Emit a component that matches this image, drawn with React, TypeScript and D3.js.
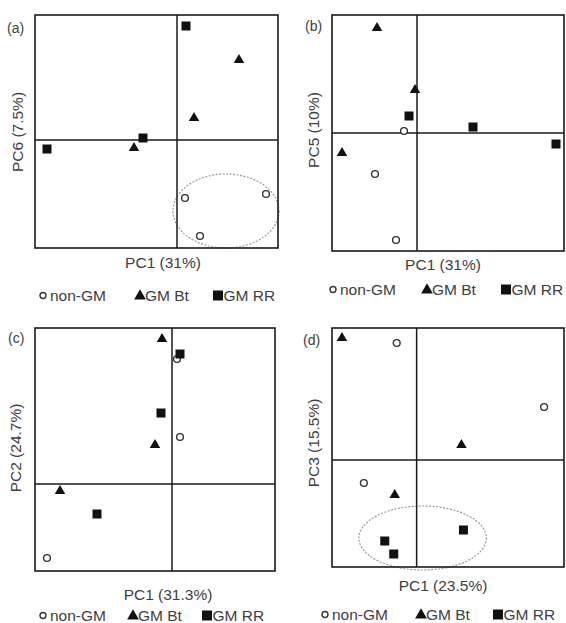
import React from "react";
import * as d3 from "d3";

// ---- Data (PC scores, arbitrary units) ----
type Pt = [number, number];

const panelLetters = ["(a)", "(b)", "(c)", "(d)"];
const xLabels = ["PC1 (31%)", "PC1 (31%)", "PC1 (31.3%)", "PC1 (23.5%)"];
const yLabels = ["PC6 (7.5%)", "PC5 (10%)", "PC2 (24.7%)", "PC3 (15.5%)"];
const groupNames = ["non-GM", "GM Bt", "GM RR"];

const xDomains: Pt[] = [[-14.2, 10.1], [-8.5, 14.7], [-13.7, 10.3], [-8.5, 14.8]];
const yDomains: Pt[] = [[-10.8, 12.5], [-11.8, 11.8], [-8.7, 15.6], [-10.7, 13.2]];

const nonGM: Pt[][] = [
  [[0.8, -5.8], [8.9, -5.4], [2.3, -9.6]],
  [[-1.3, 0.2], [-4.2, -4.1], [-2.1, -10.7]],
  [[0.5, 12.5], [0.8, 4.7], [-12.5, -7.4]],
  [[-2.0, 11.7], [12.8, 5.3], [-5.3, -2.3]],
];
const gmBt: Pt[][] = [
  [[6.2, 8.0], [1.7, 2.2], [-4.3, -0.8]],
  [[-4.0, 10.5], [-0.2, 4.3], [-7.5, -2.0]],
  [[-1.0, 14.5], [-1.7, 3.9], [-11.2, -0.7]],
  [[-7.5, 12.2], [4.5, 1.5], [-2.2, -3.5]],
];
const gmRR: Pt[][] = [
  [[0.9, 11.4], [-3.4, 0.2], [-13.0, -0.9]],
  [[-0.8, 1.7], [5.6, 0.6], [13.9, -1.1]],
  [[0.8, 13.0], [-1.1, 7.1], [-7.5, -3.0]],
  [[4.7, -7.0], [-3.2, -8.1], [-2.3, -9.4]],
];
// ellipses: [cx, cy, rx, ry] in data units (null = none)
const ellipses: ([number, number, number, number] | null)[] = [
  [4.9, -7.1, 5.3, 3.7],
  null,
  null,
  [0.6, -7.8, 6.4, 3.2],
];

// ---- Layout (pixels) ----
const boxes = [
  { x0: 35, x1: 278, y0: 15, y1: 248 },
  { x0: 332, x1: 564, y0: 15, y1: 251 },
  { x0: 35, x1: 275, y0: 328, y1: 571 },
  { x0: 332, x1: 564, y0: 328, y1: 567 },
];
const letterPos = [[7, 33], [305, 31], [8, 343], [303, 345]];
const xLabelPos = [[163, 268], [443, 270], [168, 600], [443, 591]];
const yLabelPos = [[23, 132], [319, 130], [21, 448], [319, 443]];
const legendBase = [301, 295, 621, 620];
const legendX = [
  [43, 140, 218],
  [333, 427, 506],
  [43, 133, 207],
  [325, 421, 498],
];

const FONT = "'Liberation Sans', Arial, sans-serif";
const TXT = "#404040";
const FS = 15.5;

const triPath = d3.symbol(d3.symbolTriangle, 48)() as string;
const triLegend = d3.symbol(d3.symbolTriangle, 60)() as string;

function Panel({ i }: { i: number }) {
  const b = boxes[i];
  const x = d3.scaleLinear().domain(xDomains[i]).range([b.x0, b.x1]);
  const y = d3.scaleLinear().domain(yDomains[i]).range([b.y1, b.y0]);
  const el = ellipses[i];
  const base = legendBase[i];
  const ly = base - 5.5;
  const lx = legendX[i];
  return (
    <g>
      {el && (
        <ellipse
          cx={x(el[0])}
          cy={y(el[1])}
          rx={x(el[0] + el[2]) - x(el[0])}
          ry={y(el[1]) - y(el[1] + el[3])}
          fill="none"
          stroke="#9a9a9a"
          strokeWidth={1.2}
          strokeDasharray="2,1.5"
        />
      )}
      <rect x={b.x0} y={b.y0} width={b.x1 - b.x0} height={b.y1 - b.y0} fill="none" stroke="#1a1a1a" strokeWidth={1.6} />
      <line x1={x(0)} x2={x(0)} y1={b.y0} y2={b.y1} stroke="#1a1a1a" strokeWidth={1.5} />
      <line x1={b.x0} x2={b.x1} y1={y(0)} y2={y(0)} stroke="#1a1a1a" strokeWidth={1.5} />
      {nonGM[i].map((p, k) => (
        <circle key={"n" + k} cx={x(p[0])} cy={y(p[1])} r={3.4} fill="#fff" stroke="#333" strokeWidth={1.4} />
      ))}
      {gmBt[i].map((p, k) => (
        <path key={"b" + k} d={triPath} transform={`translate(${x(p[0])},${y(p[1])})`} fill="#111" />
      ))}
      {gmRR[i].map((p, k) => (
        <rect key={"r" + k} x={x(p[0]) - 4.5} y={y(p[1]) - 4.5} width={9} height={9} fill="#111" />
      ))}
      <text x={letterPos[i][0]} y={letterPos[i][1]} fontFamily={FONT} fontSize={14} fill={TXT}>{panelLetters[i]}</text>
      <text x={xLabelPos[i][0]} y={xLabelPos[i][1]} fontFamily={FONT} fontSize={FS} fill={TXT} textAnchor="middle">{xLabels[i]}</text>
      <text
        transform={`translate(${yLabelPos[i][0]},${yLabelPos[i][1]}) rotate(-90)`}
        fontFamily={FONT}
        fontSize={FS}
        fill={TXT}
        textAnchor="middle"
      >
        {yLabels[i]}
      </text>
      {/* legend */}
      <circle cx={lx[0]} cy={ly} r={3} fill="#fff" stroke="#333" strokeWidth={1.4} />
      <text x={lx[0] + 7} y={base} fontFamily={FONT} fontSize={FS} fill={TXT}>{groupNames[0]}</text>
      <path d={triLegend} transform={`translate(${lx[1]},${ly + 0.5})`} fill="#111" />
      <text x={lx[1] + 5} y={base} fontFamily={FONT} fontSize={FS} fill={TXT}>{groupNames[1]}</text>
      <rect x={lx[2] - 5} y={ly - 5} width={10} height={10} fill="#111" />
      <text x={lx[2] + 5.5} y={base} fontFamily={FONT} fontSize={FS} fill={TXT}>{groupNames[2]}</text>
    </g>
  );
}

export default function App() {
  return (
    <svg width={566} height={623} style={{ position: "absolute", left: 0, top: 0 }}>
      <rect width={566} height={623} fill="#fff" />
      {[0, 1, 2, 3].map((i) => (
        <Panel key={i} i={i} />
      ))}
    </svg>
  );
}
